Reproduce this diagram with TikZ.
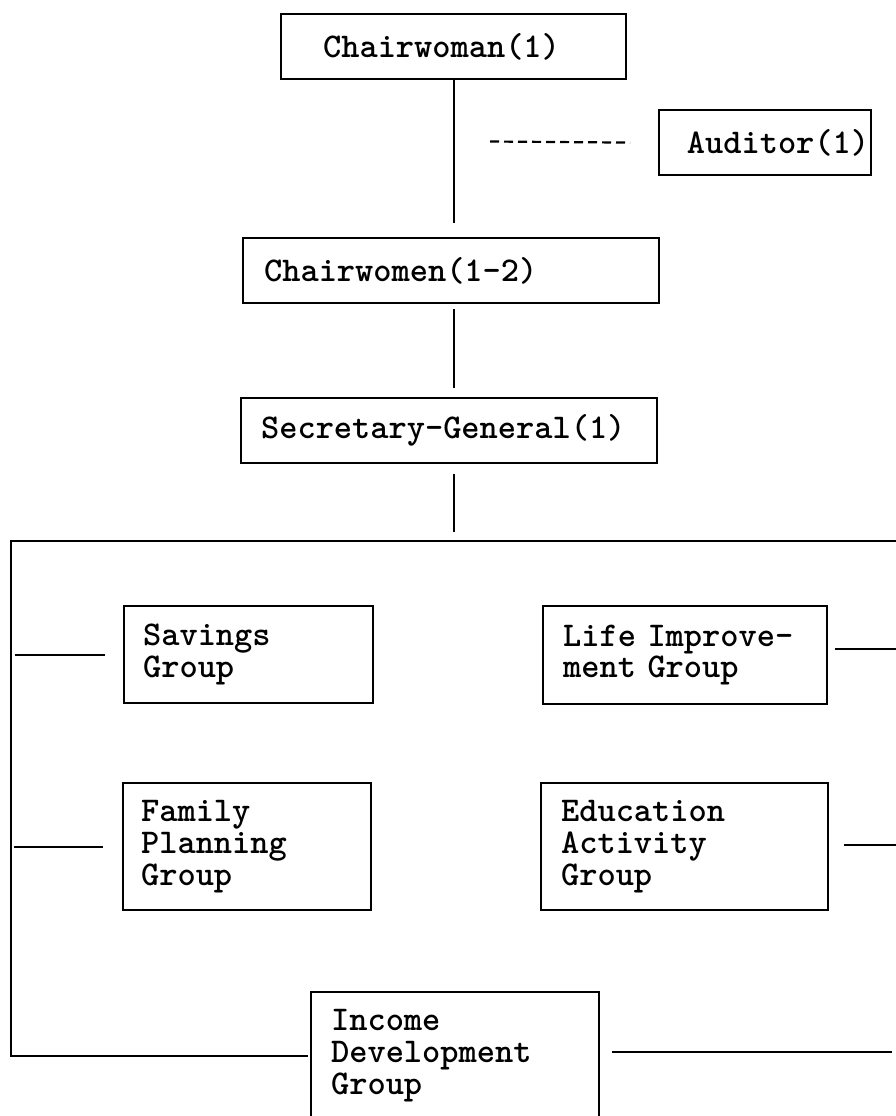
\documentclass[tikz,border=0pt]{standalone}
\usepackage{fontspec}
\begin{document}
\begin{tikzpicture}[x=1pt,y=-1pt,
  line width=2.2pt,
  box/.style={draw, rectangle, anchor=north west, inner ysep=0pt,
    font=\ttfamily\bfseries\fontsize{34.7}{31.7}\selectfont, align=left},
  conn/.style={line width=2.2pt},
  dashconn/.style={line width=2.2pt, dash pattern=on 9pt off 5pt}]
\useasboundingbox[fill=white] (0,0) rectangle (896,1116);
% top boxes
\node[box, inner xsep=42pt, text width=261pt, minimum height=65pt] (cw) at (280,13) {Chairwoman(1)};
\node[box, inner xsep=2pt, text width=208pt, minimum height=65pt, align=right] (aud) at (658,109) {Auditor(1)};
\node[box, inner xsep=21pt, text width=374pt, minimum height=65pt] (cwn) at (242,237) {Chairwomen(1-2)};
\node[box, inner xsep=20pt, text width=376pt, minimum height=65pt] (sg) at (240,397) {Secretary-General(1)};
% group boxes
\node[box, inner xsep=19pt, text width=211pt, minimum height=97pt] (sav) at (123,605) {Savings\\Group};
\node[box, inner xsep=20pt, text width=244pt, minimum height=98pt] (life) at (542,605) {Life Improve-\\ment Group};
\node[box, inner xsep=18pt, text width=212pt, minimum height=127pt] (fam) at (122,782) {Family\\Planning\\Group};
\node[box, inner xsep=20pt, text width=247pt, minimum height=127pt] (edu) at (540,782) {Education\\Activity\\Group};
\node[box, inner xsep=20pt, text width=248pt, minimum height=127pt] (inc) at (310,991) {Income\\Development\\Group};
% helper coordinates
\coordinate (trunk) at (454,0);
\coordinate (busL) at (11,541);
\coordinate (busR) at (896,541);
\coordinate (edgeR) at (896,0);
\coordinate (dstart) at (490,141.5);
% vertical chain
\draw[conn] (cw.south -| trunk) -- ([yshift=14pt]cwn.north -| trunk);
\draw[dashconn] (dstart) -- ([xshift=-28pt]aud.west);
\draw[conn] ([yshift=-5pt]cwn.south -| trunk) -- ([yshift=9pt]sg.north -| trunk);
\draw[conn] ([yshift=-10pt]sg.south -| trunk) -- ([yshift=9pt]trunk |- busL);
% bus
\draw[conn] (busR) -- (busL) -- (busL |- inc.west) -- ([xshift=-2pt]inc.west);
% left stubs
\draw[conn] ([xshift=4pt]busL |- sav.west) -- ([xshift=-18pt]sav.west);
\draw[conn] ([xshift=3pt]busL |- fam.west) -- ([xshift=-19pt]fam.west);
% right stubs
\draw[conn] ([xshift=7pt,yshift=6pt]life.east) coordinate (l1) -- (l1 -| edgeR);
\draw[conn] ([xshift=15pt,yshift=2pt]edu.east) coordinate (e1) -- (e1 -| edgeR);
\draw[conn] ([xshift=12pt,yshift=4pt]inc.east) coordinate (i1) -- ([xshift=-4pt]i1 -| edgeR);
\end{tikzpicture}
\end{document}
